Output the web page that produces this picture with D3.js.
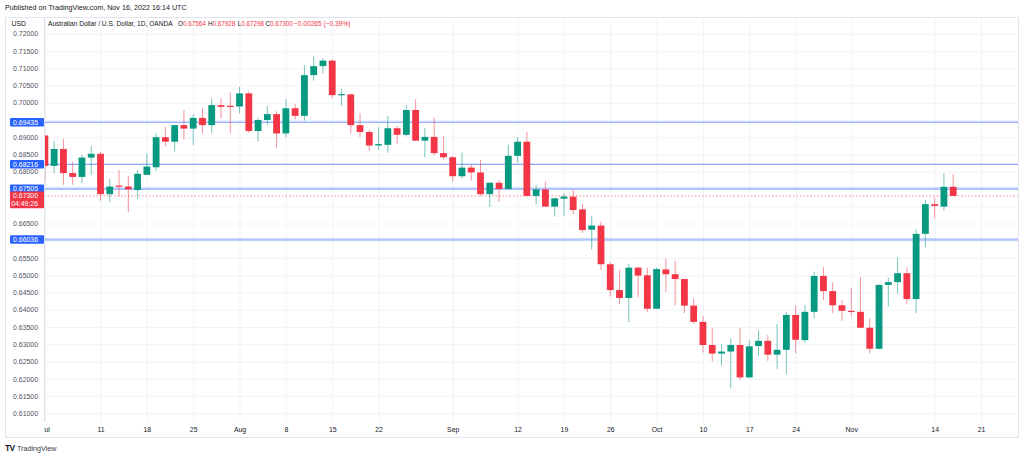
<!DOCTYPE html>
<html><head><meta charset="utf-8">
<script src="https://cdn.jsdelivr.net/npm/d3@7"></script>
<style>
html,body{margin:0;padding:0;background:#fff;}
svg{display:block;font-family:"Liberation Sans",Arial,sans-serif;}
</style></head>
<body>
<svg id="c" width="1024" height="457"></svg>
<script>
// ---- data ----
const opens  = [0.6905,0.6817,0.6866,0.6796,0.6785,0.6841,0.6852,0.6735,0.6760,0.6757,
0.6747,0.6791,0.6813,0.6900,0.6887,0.6935,0.6925,0.6956,0.6935,0.6993,
0.6991,0.6989,0.7027,0.6918,0.6950,0.6967,0.6911,0.6984,0.6962,0.7080,
0.7106,0.7122,0.7022,0.7024,0.6935,0.6915,0.6876,0.6878,0.6926,0.6907,
0.6979,0.6890,0.6901,0.6854,0.6842,0.6787,0.6812,0.6798,0.6735,0.6768,
0.6750,0.6846,0.6887,0.6730,0.6749,0.6699,0.6722,0.6728,0.6691,0.6632,
0.6644,0.6532,0.6457,0.6434,0.6522,0.6500,0.6403,0.6517,0.6503,0.6489,
0.6412,0.6365,0.6298,0.6273,0.6279,0.6298,0.6204,0.6295,0.6310,0.6270,
0.6284,0.6385,0.6312,0.6394,0.6498,0.6454,0.6413,0.6397,0.6394,0.6348,
0.6287,0.6472,0.6480,0.6506,0.6431,0.6620,0.6706,0.6699,0.67564];
const highs  = [0.6906,0.6889,0.6895,0.6829,0.6849,0.6875,0.6857,0.6779,0.6805,0.6788,
0.6805,0.6853,0.6911,0.6930,0.6936,0.6979,0.6967,0.6984,0.7013,0.7013,
0.7030,0.7046,0.7032,0.6956,0.6991,0.6975,0.7010,0.6996,0.7109,0.7135,
0.7129,0.7126,0.7040,0.7027,0.6969,0.6921,0.6929,0.6962,0.6933,0.6993,
0.7010,0.6926,0.6956,0.6903,0.6846,0.6856,0.6820,0.6834,0.6769,0.6776,
0.6878,0.6900,0.6916,0.6762,0.6771,0.6724,0.6738,0.6749,0.6707,0.6672,
0.6655,0.6538,0.6515,0.6533,0.6525,0.6522,0.6522,0.6549,0.6541,0.6490,
0.6433,0.6382,0.6348,0.6301,0.6317,0.6348,0.6312,0.6341,0.6327,0.6359,
0.6394,0.6412,0.6414,0.6510,0.6523,0.6480,0.6428,0.6464,0.6494,0.6375,
0.6473,0.6493,0.6551,0.6523,0.6633,0.6718,0.6725,0.6796,0.67928];
const lows   = [0.6770,0.6796,0.6762,0.6762,0.6767,0.6791,0.6716,0.6712,0.6728,0.6683,
0.6720,0.6791,0.6803,0.6874,0.6859,0.6894,0.6878,0.6911,0.6912,0.6955,
0.6911,0.6969,0.6913,0.6887,0.6935,0.6870,0.6900,0.6952,0.6948,0.7064,
0.7085,0.7013,0.6991,0.6911,0.6900,0.6860,0.6863,0.6855,0.6880,0.6902,
0.6889,0.6842,0.6847,0.6835,0.6771,0.6781,0.6774,0.6730,0.6699,0.6713,
0.6749,0.6826,0.6729,0.6706,0.6698,0.6670,0.6673,0.6677,0.6622,0.6574,
0.6515,0.6438,0.6417,0.6364,0.6436,0.6394,0.6402,0.6452,0.6412,0.6390,
0.6359,0.6276,0.6250,0.6238,0.6173,0.6197,0.6203,0.6267,0.6252,0.6229,
0.6213,0.6274,0.6305,0.6375,0.6428,0.6390,0.6368,0.6380,0.6347,0.6274,
0.6285,0.6409,0.6446,0.6416,0.6390,0.6581,0.6665,0.6687,0.67298];
const closes = [0.6817,0.6866,0.6796,0.6785,0.6841,0.6852,0.6735,0.6757,0.6757,0.6749,
0.6794,0.6815,0.6900,0.6887,0.6935,0.6925,0.6956,0.6935,0.6993,0.6988,
0.6989,0.7027,0.6918,0.6950,0.6967,0.6911,0.6984,0.6962,0.7080,0.7106,
0.7122,0.7022,0.7025,0.6935,0.6915,0.6876,0.6880,0.6926,0.6907,0.6979,
0.6890,0.6901,0.6854,0.6842,0.6787,0.6812,0.6798,0.6735,0.6768,0.6750,
0.6846,0.6887,0.6730,0.6749,0.6699,0.6723,0.6728,0.6689,0.6631,0.6644,
0.6532,0.6457,0.6434,0.6522,0.6499,0.6403,0.6518,0.6503,0.6489,0.6412,
0.6365,0.6298,0.6273,0.6279,0.6298,0.6204,0.6294,0.6310,0.6270,0.6284,
0.6385,0.6313,0.6394,0.6498,0.6454,0.6413,0.6397,0.6394,0.6348,0.6287,
0.6472,0.6480,0.6506,0.6431,0.6620,0.6706,0.6701,0.67564,0.67300];

const priceTicks = [0.610,0.615,0.620,0.625,0.630,0.635,0.640,0.645,0.650,0.655,0.660,
  0.665,0.670,0.675,0.680,0.685,0.690,0.695,0.700,0.705,0.710,0.715,0.720];
const levels = [0.69435,0.68216,0.67505,0.66036];
const levelThick = [false,false,true,true];
const lastPrice = 0.67300;
const countdown = "04:49:26";
const timeTickDates = ["2022-07-01","2022-07-11","2022-07-18","2022-07-25","2022-08-01","2022-08-08",
  "2022-08-15","2022-08-22","2022-09-01","2022-09-12","2022-09-19","2022-09-26","2022-10-03",
  "2022-10-10","2022-10-17","2022-10-24","2022-11-01","2022-11-14","2022-11-21"];
const timeTickLabels = ["Jul","11","18","25","Aug","8","15","22","Sep","12","19","26","Oct",
  "10","17","24","Nov","14","21"];
const header = {title:"Australian Dollar / U.S. Dollar, 1D, OANDA", o:"0.67564", h:"0.67928",
  l:"0.67298", c:"0.67300", chg:"\u22120.00265 (\u22120.39%)"};

// ---- layout ----
const fmtDay = d3.timeFormat("%Y-%m-%d");
const days = d3.timeDay.range(new Date(2022,6,1), new Date(2022,10,22))
  .filter(d => d.getDay() !== 0 && d.getDay() !== 6).map(fmtDay);
const candles = opens.map((o,i) => ({date:days[i], o, h:highs[i], l:lows[i], c:closes[i]}));

const L = 44, R = 1018, T = 17, B = 422, FB = 437;
const svg = d3.select("#c");
const x = d3.scalePoint().domain(days).range([44.9, 981]);
const y = d3.scaleLinear().domain([0.61, 0.72]).range([413.3, 33.7]);
const green = "#089981", red = "#f23645", blue = "#2962ff", txt = "#131722";

svg.append("text").attr("x",5).attr("y",9.5).attr("font-size",7.2).attr("fill",txt)
  .text("Published on TradingView.com, Nov 16, 2022 16:14 UTC");

// frame
svg.append("rect").attr("x",5.5).attr("y",T+0.5).attr("width",R-5).attr("height",FB-T)
  .attr("fill","none").attr("stroke","#e0e3eb");

// grids
const gy = svg.append("g").attr("transform",`translate(${L},0)`)
  .call(d3.axisLeft(y).tickValues(priceTicks).tickSize(-(R-L)).tickFormat(""));
gy.select(".domain").remove();
gy.selectAll("line").attr("stroke","#f0f3fa");
const gx = svg.append("g").attr("transform",`translate(0,${B})`)
  .call(d3.axisBottom(x).tickValues(timeTickDates).tickSize(-(B-T)).tickFormat(""));
gx.select(".domain").remove();
gx.selectAll("line").attr("stroke","#f0f3fa");

// separators
svg.append("line").attr("x1",L+0.5).attr("x2",L+0.5).attr("y1",T).attr("y2",B).attr("stroke","#e0e3eb");

// clip
svg.append("clipPath").attr("id","plot").append("rect").attr("x",L+1).attr("y",T+1).attr("width",R-L-1).attr("height",B-T-1);
const plot = svg.append("g").attr("clip-path","url(#plot)");

// level lines
plot.selectAll("line.lvl").data(levels).join("line").attr("class","lvl")
  .attr("x1",L).attr("x2",R).attr("y1",d=>y(d)).attr("y2",d=>y(d))
  .attr("stroke",blue).attr("stroke-width",(d,i)=>levelThick[i]?2.4:1)
  .attr("stroke-opacity",(d,i)=>levelThick[i]?0.35:0.7);

// last price dotted line
plot.append("line").attr("x1",L).attr("x2",R).attr("y1",y(lastPrice)).attr("y2",y(lastPrice))
  .attr("stroke",red).attr("stroke-opacity",0.6).attr("stroke-dasharray","1.5,2");

// candles
const bw = 6.8;
const cg = plot.selectAll("g.cd").data(candles).join("g").attr("class","cd");
cg.append("line").attr("x1",d=>x(d.date)).attr("x2",d=>x(d.date))
  .attr("y1",d=>y(d.h)).attr("y2",d=>y(d.l))
  .attr("stroke",d=>d.c>=d.o?green:red).attr("stroke-opacity",0.55).attr("stroke-width",1);
cg.append("rect").attr("x",d=>x(d.date)-bw/2).attr("width",bw)
  .attr("y",d=>y(Math.max(d.o,d.c)))
  .attr("height",d=>Math.max(1.2, Math.abs(y(d.o)-y(d.c))))
  .attr("fill",d=>d.c>=d.o?green:red);

// price axis labels
const boxes = levels.map(v=>({v, top:y(v)-4.3, bot:y(v)+4.3, color:blue, lines:[d3.format(".5f")(v)]}));
boxes.push({v:lastPrice, top:y(lastPrice)-4.3, bot:y(lastPrice)+12.3, color:red, lines:[d3.format(".5f")(lastPrice), countdown]});
const ya = svg.append("g").attr("transform","translate(38,0)")
  .call(d3.axisLeft(y).tickValues(priceTicks).tickSize(0).tickPadding(0).tickFormat(d3.format(".5f")));
ya.select(".domain").remove();
ya.selectAll("text").attr("font-size",6.9).attr("fill","#50535e")
  .attr("font-family","Liberation Sans, Arial, sans-serif")
  .attr("display", d => boxes.some(b => y(d)+3 > b.top && y(d)-3 < b.bot) ? "none" : null);

const bg = svg.selectAll("g.box").data(boxes).join("g").attr("class","box");
bg.append("rect").attr("x",10).attr("width",L-10).attr("y",d=>d.top).attr("height",d=>d.bot-d.top)
  .attr("fill",d=>d.color).attr("rx",1);
bg.each(function(d){
  const g = d3.select(this);
  d.lines.forEach((t,k)=>{
    g.append("text").attr("x",38).attr("y",y(d.v)+2.4+k*8).attr("text-anchor","end")
      .attr("font-size",6.9).attr("fill","#fff").text(t);
  });
});

// time axis labels
svg.append("clipPath").attr("id","taxis").append("rect").attr("x",L).attr("y",B).attr("width",R-L).attr("height",FB-B);
const xa = svg.append("g").attr("clip-path","url(#taxis)").append("g").attr("transform",`translate(0,${B})`)
  .call(d3.axisBottom(x).tickValues(timeTickDates).tickSize(0).tickPadding(0)
    .tickFormat((d,i)=>timeTickLabels[i]));
xa.select(".domain").remove();
xa.selectAll("text").attr("font-size",6.9).attr("fill",txt).attr("dy","9.5")
  .attr("font-family","Liberation Sans, Arial, sans-serif");

// header legend
svg.append("text").attr("x",11.5).attr("y",25.5).attr("font-size",6.9).attr("fill",txt).text("USD");
svg.append("text").attr("x",48).attr("y",25.5).attr("font-size",6.6).attr("fill",txt).text(header.title);
const hx = [178, 208, 237.7, 265.5];
[["O",header.o],["H",header.h],["L",header.l],["C",header.c]].forEach(([k,v],i)=>{
  const t = svg.append("text").attr("x",hx[i]).attr("y",25.5).attr("font-size",6.3);
  t.append("tspan").attr("fill",txt).text(k);
  t.append("tspan").attr("fill",red).text(v);
});
svg.append("text").attr("x",294).attr("y",25.5).attr("font-size",6.6).attr("fill",red).text(header.chg);

// footer logo
svg.append("text").attr("x",5).attr("y",450.5).attr("font-size",8.5).attr("font-weight",900)
  .attr("fill",txt).attr("letter-spacing",-0.8).text("TV");
svg.append("text").attr("x",17).attr("y",450.5).attr("font-size",7.2).attr("fill","#363a45").text("TradingView");
</script>
</body></html>
